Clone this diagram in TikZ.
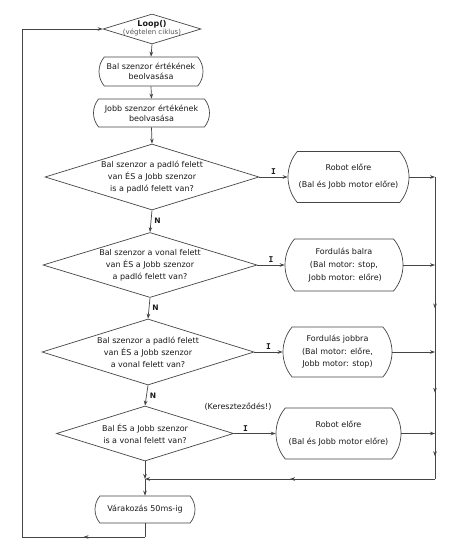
\documentclass[tikz,border=0pt]{standalone}
\usepackage{fontspec}
\setmainfont{DejaVu Sans}
\newfontfamily\monob{DejaVu Sans Mono}
\usetikzlibrary{shapes.geometric,shapes.misc,arrows.meta,decorations.markings,calc}
\definecolor{ln}{HTML}{454545}
\definecolor{tx}{HTML}{1a1a1a}
\definecolor{gtx}{HTML}{555555}
\begin{document}
\begin{tikzpicture}[x=1pt,y=-1pt,
  font=\fontsize{8}{12}\selectfont, text=tx,
  line/.style={draw=ln, line width=0.7pt},
  arr/.style={line, -{Stealth[length=5pt,width=3.6pt]}},
  midarr/.style={line, postaction={decorate},
    decoration={markings, mark=at position 0.5 with {\arrow{Stealth[length=5pt,width=3.6pt]}}}},
  dia/.style={diamond, draw=ln, line width=0.7pt, inner sep=0pt},
  txt/.style={align=center, inner sep=0pt},
  box/.style={rounded rectangle, rounded rectangle arc length=80, draw=ln, line width=0.7pt, align=center, inner sep=1pt},
  lbl/.style={font=\monob\bfseries\fontsize{8}{9}\selectfont, inner sep=2pt},
  nlbl/.style={font=\bfseries\fontsize{7.5}{9}\selectfont, inner sep=3pt}
]
\useasboundingbox (0,0) rectangle (459,548);
\fill[white] (0,0) rectangle (459,548);

% start
\node[dia, minimum width=98pt, minimum height=30pt] (loop) at (152,29) {};
\node[txt] (looptxt) at (152,28) {\textbf{Loop()}\\[-3.5pt]{\color{gtx}\fontsize{7}{8}\selectfont(végtelen ciklus)}};

\node[box, minimum width=106pt, minimum height=29pt, font=\fontsize{8}{10}\selectfont] (b1) at (151,71.5) {Bal szenzor értékének\\beolvasása};
\node[box, minimum width=118pt, minimum height=28pt, font=\fontsize{8}{10}\selectfont] (b2) at (151.5,113) {Jobb szenzor értékének\\beolvasása};

% decisions
\node[dia, minimum width=214pt, minimum height=66pt] (d1) at (152,177) {};
\node[txt] (d1t) at (d1) {Bal szenzor a padló felett\\van ÉS a Jobb szenzor\\is a padló felett van?};
\node[dia, minimum width=214pt, minimum height=65pt] (d2) at (150,265) {};
\node[txt] (d2t) at (d2) {Bal szenzor a vonal felett\\van ÉS a Jobb szenzor\\a padló felett van?};
\node[dia, minimum width=212pt, minimum height=66pt] (d3) at (148,352) {};
\node[txt] (d3t) at (d3) {Bal szenzor a padló felett\\van ÉS a Jobb szenzor\\a vonal felett van?};
\node[dia, minimum width=177pt, minimum height=55pt] (d4) at (145,433.5) {};
\node[txt] (d4t) at (d4) {Bal ÉS a Jobb szenzor\\is a vonal felett van?};

% actions
\node[box, minimum width=123pt, minimum height=51pt] (r1) at (348.5,177) {Robot előre\\[5pt](Bal és Jobb motor előre)};
\node[box, minimum width=120pt, minimum height=52pt, font=\fontsize{8}{13}\selectfont] (a2) at (344,265) {Fordulás balra\\(Bal motor: stop,\\\ Jobb motor: előre)};
\node[box, minimum width=111pt, minimum height=50pt, font=\fontsize{8}{12.5}\selectfont] (a3) at (337.5,352) {Fordulás jobbra\\(Bal motor: előre,\\Jobb motor: stop)};
\node[box, minimum width=127pt, minimum height=51pt] (r4) at (338.5,433.5) {Robot előre\\[5pt](Bal és Jobb motor előre)};
\node[box, minimum width=102pt, minimum height=27pt] (w) at (145,509.5) {Várakozás 50ms-ig};

\node[txt] (kz) at (238,407) {(Kereszteződés!)};

% coordinates
\coordinate (R1) at (435,177);
\coordinate (R2) at (435,265);
\coordinate (R3) at (435,352);
\coordinate (R4) at (435,433.5);
\coordinate (RB) at (435,479);
\coordinate (M) at (145,479);
\coordinate (BL) at (145,537);
\coordinate (LB) at (22,537);
\coordinate (LT) at (22,29);

% main flow
\draw[arr] (loop.south) -- (b1.north);
\draw[arr] (b1.south) -- (b2.north);
\draw[arr] (b2.south) -- (d1.north);
\draw[arr] (d1.south) -- node[nlbl, right] {N} (d2.north);
\draw[arr] (d2.south) -- node[nlbl, right] {N} (d3.north);
\draw[arr] (d3.south) -- node[nlbl, right] {N} (d4.north);

\draw[arr] (d1.east) -- node[lbl, above] {I} (r1.west);
\draw[arr] (d2.east) -- node[lbl, above] {I} (a2.west);
\draw[arr] (d3.east) -- node[lbl, above] {I} (a3.west);
\draw[arr] (d4.east) -- node[lbl, above, pos=0.28] {I} (r4.west);

% to right collector
\draw[arr] (r1.east) -- (R1);
\draw[arr] (a2.east) -- (R2);
\draw[arr] (a3.east) -- (R3);
\draw[arr] (r4.east) -- (R4);
\draw[line] (R1) -- (R2);
\draw[midarr] (R2) -- (R3);
\draw[midarr] (R3) -- (R4);
\draw[midarr] (R4) -- (RB);
\draw[midarr, arr] (RB) -- (M);

% merge and wait
\draw[arr] (d4.south) -- (M);
\draw[arr] (M) -- (w.north);

% loop back
\draw[line] (w.south) -- (BL);
\draw[midarr] (BL) -- (LB);
\draw[arr] (LB) -- (LT) -- (loop.west);
\end{tikzpicture}
\end{document}
